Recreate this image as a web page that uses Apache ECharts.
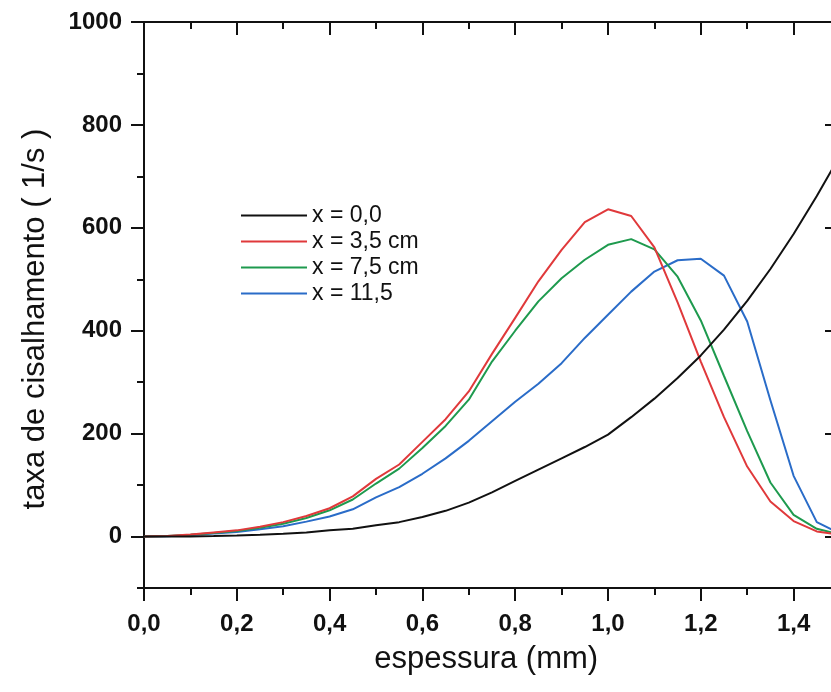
<!DOCTYPE html>
<html>
<head>
<meta charset="utf-8">
<script src="https://cdn.jsdelivr.net/npm/echarts@6/dist/echarts.min.js"></script>
<style>
html,body{margin:0;padding:0;background:#fff;}
#chart{width:831px;height:692px;}
</style>
</head>
<body>
<div id="chart"></div>
<script>
// espessura (mm), step 0.05
var espessura = [0,0.05,0.1,0.15,0.2,0.25,0.3,0.35,0.4,0.45,0.5,0.55,0.6,0.65,0.7,0.75,0.8,0.85,0.9,0.95,1.0,1.05,1.1,1.15,1.2,1.25,1.3,1.35,1.4,1.45,1.5];
var serieX00 = [0,0,0.3,1,2,3.5,5.5,8,12,15,22,28,38,50,66,86,108,130,152,174,198,232,268,308,352,402,458,520,588,662,740];
var serieX35 = [0,1,4,8,12,19,28,40,55,78,112,140,184,228,282,355,425,496,557,611,636,623,562,455,340,232,136,68,30,10,3];
var serieX75 = [0,1,3.5,7,11,17,25,36,51,72,103,132,172,215,266,340,400,457,502,538,567,578,558,505,420,312,205,105,42,15,4];
var serieX115 = [0,0.5,3,6,9,14,20,29,39,53,76,96,122,152,186,224,262,297,337,386,431,476,515,537,540,507,418,265,118,28,6];
var seriesNames = ['x = 0,0','x = 3,5 cm','x = 7,5 cm','x = 11,5'];
var seriesColors = ['#111111','#e0393b','#1e9a4e','#2a6cc8'];
var seriesValues = [serieX00, serieX35, serieX75, serieX115];

function pairs(vals){ return espessura.map(function(x,i){ return [x, vals[i]]; }); }

var FONT = 'Liberation Sans';
var L = 144, T = 22, PX = 464; // px per mm
var H0 = 566, H1 = 566 * 1000 / 1100;

var chart = echarts.init(document.getElementById('chart'), null, {renderer:'canvas'});
var axisLineStyle = {color:'#111', width:2};
var option = {
  backgroundColor:'#fff',
  animation:false,
  grid:[
    {left:L, top:T, width:1.6*PX, height:H0, outerBoundsMode:'none', containLabel:false},
    {left:L, top:T, width:1.6*PX, height:H1, outerBoundsMode:'none', containLabel:false},
    {left:L, top:T, width:1.5*PX, height:H1, outerBoundsMode:'none', containLabel:false}
  ],
  legend:{
    orient:'vertical', left:236, top:199,
    icon:'rect', itemWidth:66, itemHeight:2, itemGap:3,
    textStyle:{fontFamily:FONT, fontSize:23, color:'#111'},
    data:seriesNames
  },
  xAxis:[
    {gridIndex:0, type:'value', position:'bottom', min:0, max:1.6, interval:0.2,
     axisLine:{show:true, onZero:false, lineStyle:axisLineStyle},
     axisTick:{show:true, inside:false, length:13, lineStyle:{color:'#111', width:2}},
     minorTick:{show:true, splitNumber:2, length:7, lineStyle:{color:'#111', width:2}},
     splitLine:{show:false}, minorSplitLine:{show:false},
     axisLabel:{margin:24, fontFamily:FONT, fontWeight:'bold', fontSize:24, color:'#111',
       formatter:function(v){ return v > 1.45 ? '' : v.toFixed(1).replace('.', ','); }},
     name:'espessura (mm)', nameLocation:'middle', nameGap:56,
     nameTextStyle:{fontFamily:FONT, fontSize:31, color:'#111', padding:[0,58,0,0]}
    },
    {gridIndex:0, type:'value', position:'top', min:0, max:1.6, interval:0.2,
     axisLine:{show:true, onZero:false, lineStyle:axisLineStyle},
     axisTick:{show:true, inside:true, length:13, lineStyle:{color:'#111', width:2}},
     minorTick:{show:true, splitNumber:2, length:7, lineStyle:{color:'#111', width:2}},
     splitLine:{show:false}, axisLabel:{show:false}
    },
    {gridIndex:1, type:'value', min:0, max:1.6, show:false},
    {gridIndex:2, type:'value', min:0, max:1.5, show:false}
  ],
  yAxis:[
    {gridIndex:0, type:'value', position:'left', min:-100, max:1000, interval:100,
     axisLine:{show:true, onZero:false, lineStyle:axisLineStyle},
     axisTick:{show:true, length:7, lineStyle:{color:'#111', width:2}},
     splitLine:{show:false}, axisLabel:{show:false},
     name:'taxa de cisalhamento ( 1/s )', nameLocation:'middle', nameRotate:90, nameGap:93,
     nameTextStyle:{fontFamily:FONT, fontSize:31, color:'#111', padding:[0,28,0,0]}
    },
    {gridIndex:1, type:'value', position:'left', min:0, max:1000, interval:200,
     axisLine:{show:false},
     axisTick:{show:true, length:13, lineStyle:{color:'#111', width:2}},
     splitLine:{show:false},
     axisLabel:{margin:22, fontFamily:FONT, fontWeight:'bold', fontSize:24, color:'#111',
       formatter:function(v){ return String(v); }}
    },
    {gridIndex:2, type:'value', position:'right', min:0, max:1000, interval:200,
     axisLine:{show:true, onZero:false, lineStyle:axisLineStyle},
     axisTick:{show:true, inside:true, length:15, lineStyle:{color:'#111', width:2}},
     splitLine:{show:false}, axisLabel:{show:false}
    }
  ],
  series: seriesValues.map(function(vals, i){
    return {
      name:seriesNames[i], type:'line', xAxisIndex:0, yAxisIndex:0,
      data:pairs(vals), symbol:'none', showSymbol:false,
      lineStyle:{color:seriesColors[i], width:2}, itemStyle:{color:seriesColors[i]},
      z: 10 - i
    };
  })
};
chart.setOption(option);
</script>
</body>
</html>
